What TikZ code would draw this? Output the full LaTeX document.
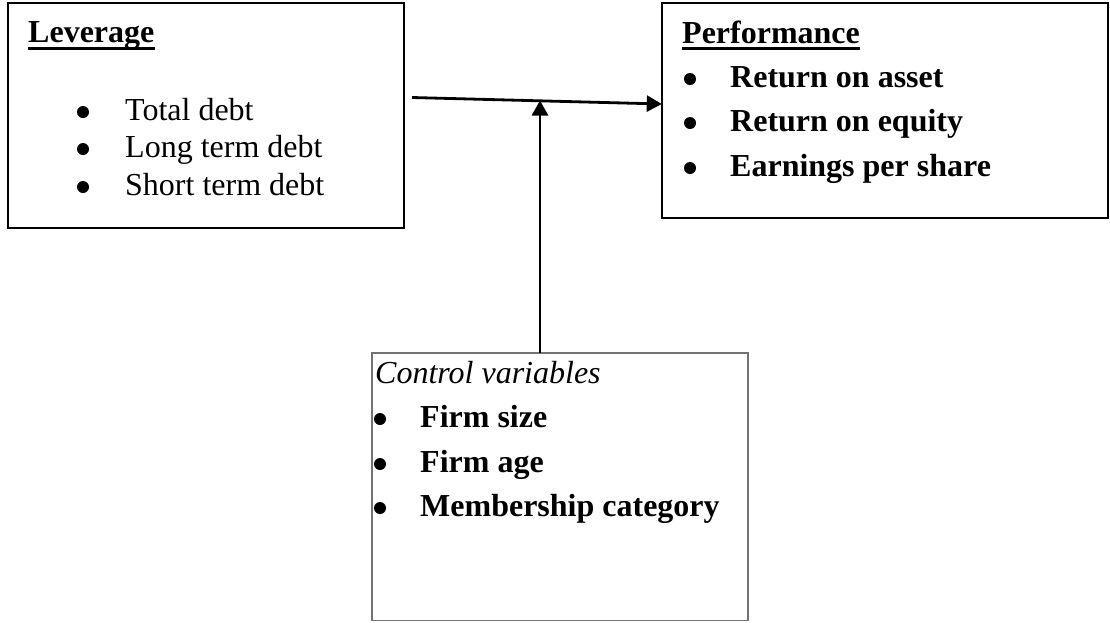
\documentclass[tikz,border=0pt]{standalone}
\usepackage{fontspec}
\setmainfont{Liberation Serif}
\usetikzlibrary{arrows.meta}
\begin{document}
\begin{tikzpicture}[x=1pt,y=-1pt,
  mainbox/.style={draw=black,line width=2pt,inner sep=0pt},
  ctrlbox/.style={draw=black!55,line width=1.6pt,inner sep=0pt},
  txt/.style={anchor=base west,inner sep=0pt,font=\fontsize{32}{37}\selectfont},
  btxt/.style={txt,font=\fontsize{32}{37}\selectfont\bfseries},
  bul/.style={circle,fill=black,inner sep=0pt,minimum size=12pt},
  uline/.style={line width=3pt},
  conn/.style={line width=2.8pt,-{Triangle[length=15pt,width=16pt]}}]
\useasboundingbox (0,0) rectangle (1110,622);
% boxes
\draw[mainbox] (8,3) rectangle (404,228);
\node[inner sep=0pt,minimum width=396pt,minimum height=225pt] (lev) at (206,115.5) {};
\draw[mainbox] (662,3) rectangle (1108,218);
\node[inner sep=0pt,minimum width=446pt,minimum height=215pt] (perf) at (885,110.5) {};
\draw[ctrlbox] (372,353) rectangle (748,620.5);
\node[inner sep=0pt,minimum width=376pt,minimum height=267.5pt] (ctrl) at (560,486.75) {};
% Leverage text
\node[btxt] (levt) at (28,42) {Leverage};
\draw[uline] ([yshift=-6pt]levt.base west) -- ([yshift=-6pt]levt.base east);
\node[bul] (lb1) at (83,112) {};
\node[bul] (lb2) at (83,149) {};
\node[bul] (lb3) at (83,187) {};
\node[txt] (l1) at (125,120) {Total debt};
\node[txt] (l2) at (125,157) {Long term debt};
\node[txt] (l3) at (125,195) {Short term debt};
% Performance text
\node[btxt] (perft) at (682,43) {Performance};
\draw[uline] ([yshift=-5.5pt]perft.base west) -- ([yshift=-5.5pt]perft.base east);
\node[bul] (pb1) at (690,79) {};
\node[bul] (pb2) at (690,123) {};
\node[bul] (pb3) at (690,168) {};
\node[btxt] (p1) at (730,87) {Return on asset};
\node[btxt] (p2) at (730,131) {Return on equity};
\node[btxt] (p3) at (730,176) {Earnings per share};
% Control text
\node[txt,font=\fontsize{32}{37}\selectfont\itshape] (ct) at (375,383) {Control variables};
\node[bul] (cb1) at (380,419) {};
\node[bul] (cb2) at (380,464) {};
\node[bul] (cb3) at (380,508) {};
\node[btxt] (c1) at (420,427) {Firm size};
\node[btxt] (c2) at (420,472) {Firm age};
\node[btxt] (c3) at (420,516) {Membership category};
% connectors
\coordinate (hs) at (412,97.5);
\coordinate (he) at (perf.west |- 0,104);
\coordinate (vt) at (540,100.5);
\draw[conn] (hs) -- (he);
\draw[conn] (ctrl.north -| vt) -- (vt);
\end{tikzpicture}
\end{document}
